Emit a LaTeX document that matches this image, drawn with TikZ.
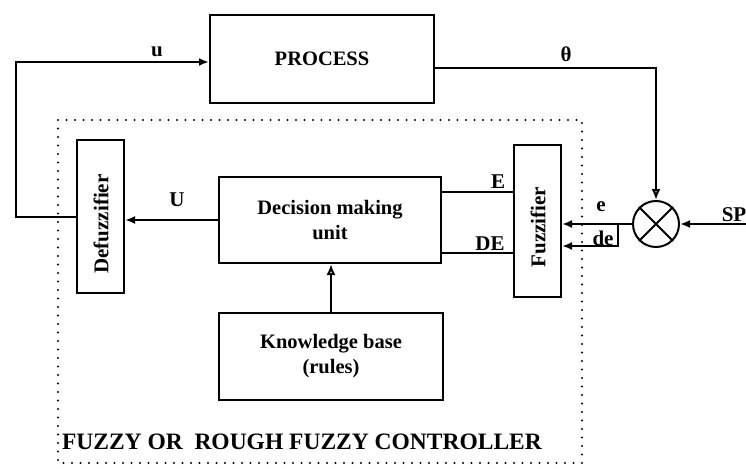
\documentclass[tikz,border=0pt]{standalone}
\usepackage{fontspec}
\setmainfont{Liberation Serif}
\usetikzlibrary{arrows.meta}
\begin{document}
\begin{tikzpicture}[x=1pt,y=-1pt,
  line width=2pt,
  box/.style={draw, rectangle, inner sep=0pt, align=center, font=\fontsize{20.5}{25}\selectfont\bfseries},
  vbox/.style={draw, rectangle, inner sep=0pt},
  vtext/.style={rotate=90, font=\fontsize{21}{24}\selectfont\bfseries},
  lbl/.style={font=\fontsize{21}{24}\selectfont\bfseries, inner sep=0pt},
  arr/.style={-{Latex[length=10pt,width=8pt]}},
  oarr/.style={-{Latex[open,length=11pt,width=9pt]}},
  dotbox/.style={line width=2.4pt, line cap=round, dash pattern=on 0pt off 8.5pt}
  ]
\useasboundingbox (0,0) rectangle (746,468);

% boxes
\node[box, minimum width=224pt, minimum height=88pt] (proc) at (322,59) {PROCESS};
\node[box, minimum width=222pt, minimum height=86pt] (dm) at (330,220) {Decision making\\unit};
\node[box, minimum width=224pt, minimum height=87pt] (kb) at (331,356.5) {Knowledge base\\(rules)};
\node[vbox, minimum width=47pt, minimum height=153pt] (defz) at (100.5,216.5) {};
\node[vtext] (defzt) at (101,224) {Defuzzifier};
\node[vbox, minimum width=47pt, minimum height=152pt] (fuz) at (537.5,221) {};
\node[vtext] (fuzt) at (538,227) {Fuzzifier};
\node[draw, circle, minimum size=46pt, inner sep=0pt] (sum) at (656,224) {};
\draw (sum.north west) -- (sum.south east);
\draw (sum.north east) -- (sum.south west);

% dotted controller box
\coordinate (c1) at (58,120);
\coordinate (c2) at (582,463);
\draw[dotbox] (c1) rectangle (c2);
\node[font=\fontsize{23.5}{26}\selectfont\bfseries, anchor=west, inner sep=0pt] (ctl) at (61,442) {FUZZY OR\ \ ROUGH FUZZY CONTROLLER};

% coordinates
\coordinate (ul) at (16,62);
\coordinate (th) at (656,68);
\coordinate (sp) at (746,224);
\coordinate (dej) at (618,224);
\coordinate (dec) at (618,246);
\coordinate (Ey) at (0,192);
\coordinate (DEy) at (0,253);

% connectors
\draw[arr] (defz.west) -| (ul) -- (proc.west |- ul);
\draw[oarr] (proc.east |- th) -- (th) -- (sum.north);
\draw[arr] (sp) -- (sum.east);
\draw[arr] (sum.west) -- (fuz.east |- sum.west);
\draw[arr] (dej) -- (dec) -- (fuz.east |- dec);
\draw (dm.east |- Ey) -- (fuz.west |- Ey);
\draw (dm.east |- DEy) -- (fuz.west |- DEy);
\draw[arr] (dm.west) -- (defz.east |- dm.west);
\draw[oarr] (kb.north) -- (kb.north |- dm.south);

% labels
\node[lbl] (lu) at (157,52) {u};
\node[lbl] (lth) at (566,54) {θ};
\node[lbl] (lU) at (177,200) {U};
\node[lbl] (lE) at (498,182) {E};
\node[lbl] (lDE) at (490,244) {DE};
\node[lbl] (le) at (601,207) {e};
\node[lbl] (lde) at (603,238) {de};
\node[lbl] (lSP) at (734,215) {SP};
\end{tikzpicture}
\end{document}
